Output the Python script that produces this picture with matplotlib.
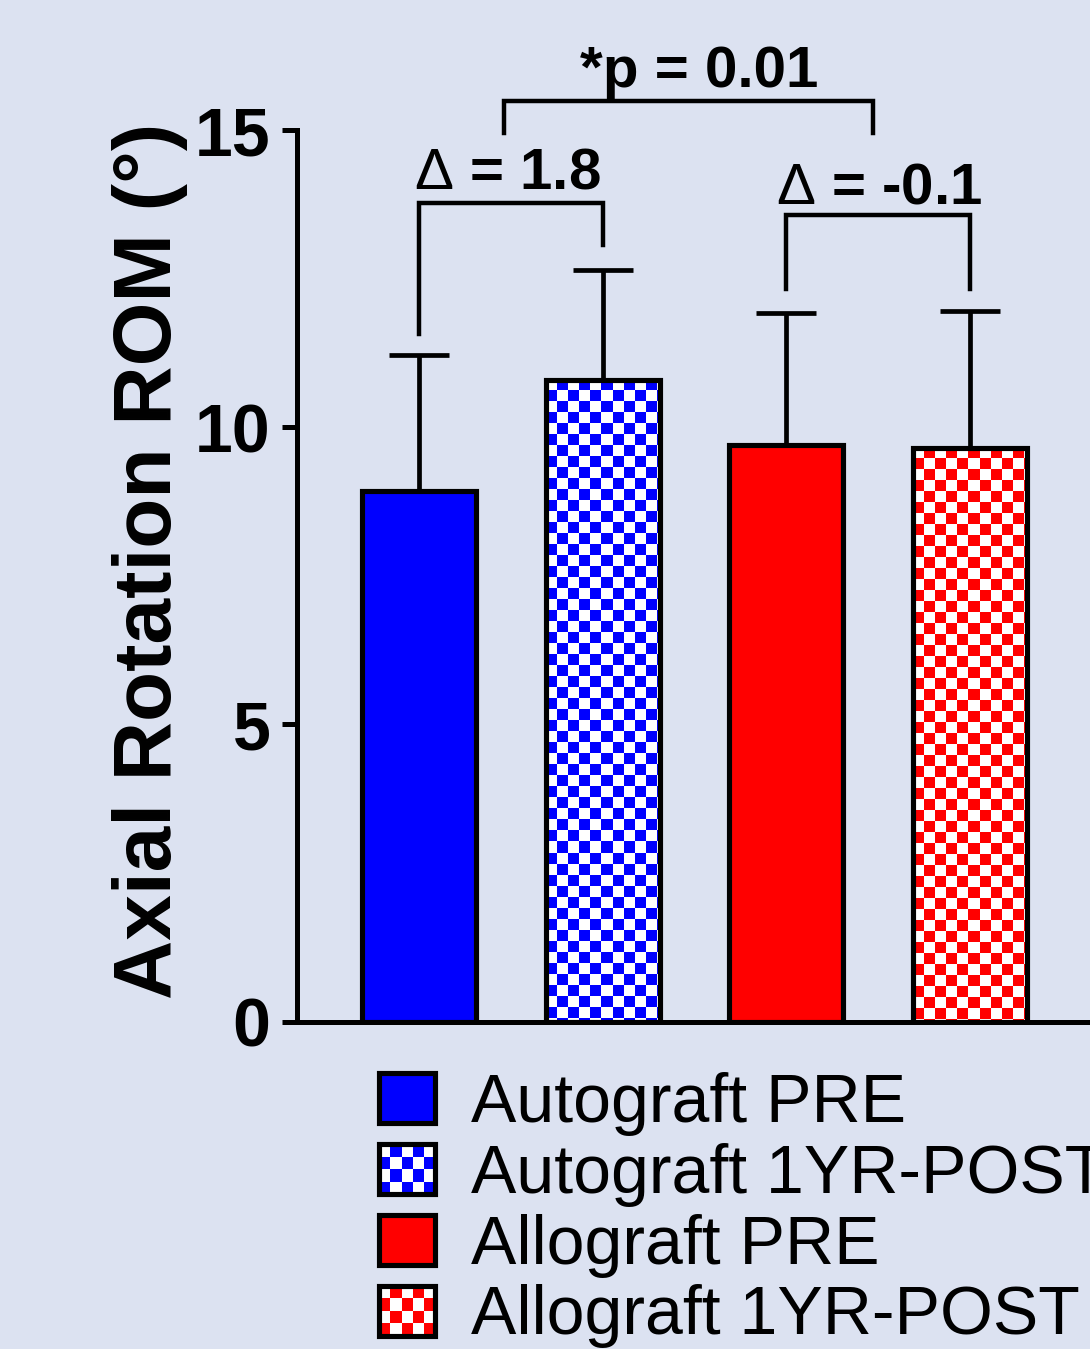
import numpy as np
import matplotlib
matplotlib.use("Agg")
import matplotlib.pyplot as plt
from matplotlib.patches import Patch, Rectangle
from matplotlib.legend_handler import HandlerBase

plt.rcParams['font.family'] = ['Liberation Sans', 'DejaVu Sans']
plt.rcParams['mathtext.fontset'] = 'custom'
plt.rcParams['mathtext.rm'] = 'Liberation Sans'
plt.rcParams['mathtext.it'] = 'Liberation Sans:italic'
plt.rcParams['mathtext.bf'] = 'Liberation Sans:bold'

# ---- data ----
groups = ["Autograft PRE", "Autograft 1YR-POST", "Allograft PRE", "Allograft 1YR-POST"]
means = [8.92, 10.79, 9.70, 9.65]
sd_upper = [2.29, 1.86, 2.22, 2.31]
colors = ["#0000ff", "#0000ff", "#ff0000", "#ff0000"]
checkered = [False, True, False, True]
yticks = [0, 5, 10, 15]
ylabel = "Axial Rotation ROM (°)"
delta_labels = [r"$\Delta$ = 1.8", r"$\Delta$ = -0.1"]
p_label = "*p = 0.01"

BG = "#dce2f1"
W, H, DPI = 1090, 1349, 100
fig = plt.figure(figsize=(W / DPI, H / DPI), dpi=DPI, facecolor=BG)
ax = fig.add_axes([297 / W, (H - 1021.5) / H, 795 / W, 891.5 / H])
ax.set_facecolor(BG)

x = np.arange(len(groups))
bar_w = 0.622
XLIM = (-0.668, 3.668)
YLIM = (0, 15)
ax.set_xlim(*XLIM)
ax.set_ylim(*YLIM)

LW = 3.7
fills = ["white" if c else col for c, col in zip(checkered, colors)]
bars = ax.bar(x, means, width=bar_w, color=fills, edgecolor="none", zorder=2)
ax.bar(x, means, width=bar_w, fill=False, edgecolor="black", linewidth=LW, zorder=4)

# error bars (upper only)
ax.errorbar(x, means, yerr=[np.zeros(len(x)), sd_upper], fmt="none", ecolor="black",
            elinewidth=3.4, capsize=21.6, capthick=3.4, zorder=1.5)

# checker fill
CELL = 11.0
for rect, chk, col in zip(bars, checkered, colors):
    if not chk:
        continue
    x0, y0 = rect.get_x(), rect.get_y()
    w, h = rect.get_width(), rect.get_height()
    p0 = ax.transData.transform((x0, y0))
    p1 = ax.transData.transform((x0 + w, y0 + h))
    nx = int(np.ceil((p1[0] - p0[0]) / CELL)) + 1
    ny = int(np.ceil((p1[1] - p0[1]) / CELL)) + 1
    sx = w / (p1[0] - p0[0]) * CELL
    sy = h / (p1[1] - p0[1]) * CELL
    pat = np.add.outer(np.arange(ny), np.arange(nx)) % 2
    rgb = np.ones((ny, nx, 3))
    c = np.array(matplotlib.colors.to_rgb(col))
    rgb[pat == 1] = c
    ytop = y0 + h
    im = ax.imshow(rgb, extent=(x0, x0 + nx * sx, ytop - ny * sy, ytop), origin="upper",
                   interpolation="nearest", aspect="auto", zorder=3)
    im.set_clip_path(rect)

ax.set_xlim(*XLIM)
ax.set_ylim(*YLIM)

# axes styling
for s in ["top", "right"]:
    ax.spines[s].set_visible(False)
for s in ["left", "bottom"]:
    ax.spines[s].set_linewidth(3.6)
ax.set_xticks([])
ax.set_yticks(yticks)
ax.set_yticklabels([str(t) for t in yticks], fontsize=49, fontweight="bold")
ax.tick_params(axis="y", length=11, width=3.6, pad=8)
ax.set_ylabel(ylabel, fontsize=59, fontweight="bold")
ax.yaxis.set_label_coords(-0.137, 0.5165)

# brackets
BLW = 3.2
def bracket(xa, xb, ya, yb, ytop, label, xtext, ytext):
    ax.plot([xa, xa, xb, xb], [ya, ytop, ytop, yb], color="black", lw=BLW,
            solid_joinstyle="miter", clip_on=False, zorder=5)
    ax.text(xtext, ytext, label, ha="center", va="baseline", fontsize=42,
            fontweight="bold", clip_on=False)

bracket(0, 1, 11.57, 13.07, 13.77, delta_labels[0], 0.48, 14.02)
bracket(2, 3, 12.33, 12.33, 13.57, delta_labels[1], 2.51, 13.77)
bracket(0.46, 2.475, 14.95, 14.95, 15.49, p_label, 1.525, 15.72)

# legend
class HandlerChecker(HandlerBase):
    def __init__(self, color, **kw):
        super().__init__(**kw)
        self.color = color

    def create_artists(self, legend, orig_handle, xdescent, ydescent, width, height, fontsize, trans):
        arts = []
        arts.append(Rectangle((-xdescent, -ydescent), width, height, facecolor="white",
                              edgecolor="none", transform=trans))
        ncol, nrow = 5, 4
        cw, ch = width / ncol, height / nrow
        for i in range(nrow):
            for j in range(ncol):
                if (i + j) % 2 == 0:
                    arts.append(Rectangle((-xdescent + j * cw, -ydescent + i * ch), cw, ch,
                                          facecolor=self.color, edgecolor="none", transform=trans))
        arts.append(Rectangle((-xdescent, -ydescent), width, height, facecolor="none",
                              edgecolor="black", linewidth=LW, transform=trans))
        return arts

handles = []
hmap = {}
for g, col, chk in zip(groups, colors, checkered):
    p = Patch(facecolor=col, edgecolor="black", linewidth=LW, label=g)
    handles.append(p)
    if chk:
        hmap[p] = HandlerChecker(col)

fig.legend(handles=handles, labels=groups, handler_map=hmap, loc="upper left",
           bbox_to_anchor=(379 / W, 1 - 1072 / H), frameon=False, fontsize=49,
           handlelength=0.83, handleheight=0.76, handletextpad=0.52,
           labelspacing=0.1, borderpad=0, borderaxespad=0)

fig.savefig("out.png", dpi=DPI, facecolor=BG)
